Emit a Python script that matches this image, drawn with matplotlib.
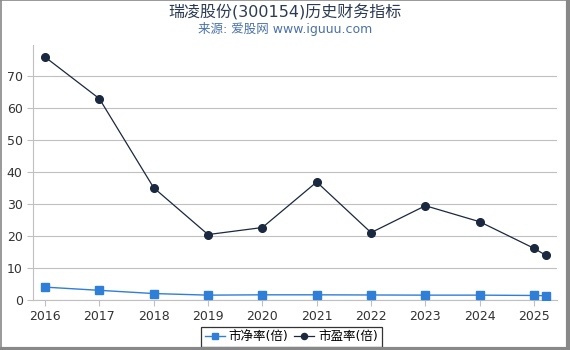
import matplotlib.pyplot as plt
from matplotlib.lines import Line2D

plt.rcParams['font.family'] = ['DejaVu Sans', 'Noto Sans CJK SC']

# 数据
anos = [2016, 2017, 2018, 2019, 2020, 2021, 2022, 2023, 2024, 2025, 2025.22]
pb = [4.0, 3.0, 2.0, 1.5, 1.6, 1.6, 1.55, 1.5, 1.5, 1.4, 1.3]
pe = [75.8, 62.8, 35.0, 20.4, 22.6, 36.8, 21.0, 29.4, 24.4, 16.1, 13.9]
xticks = [2016, 2017, 2018, 2019, 2020, 2021, 2022, 2023, 2024, 2025]
yticks = [0, 10, 20, 30, 40, 50, 60, 70]

fig = plt.figure(figsize=(5.7, 3.5), dpi=100)
ax = fig.add_axes([0.058, 0.143, 0.919, 0.728])

ax.plot(anos, pb, color='#2f7ed8', marker='s', markersize=5.5, linewidth=1,
        label='市净率(倍)', zorder=3)
ax.plot(anos, pe, color='#1a2840', marker='o', markersize=5.5, linewidth=0.9,
        label='市盈率(倍)', zorder=3)

ax.set_xlim(2015.78, 2025.42)
ax.set_ylim(0, 79.5)
ax.set_xticks(xticks)
ax.set_yticks(yticks)
ax.grid(axis='y', color='#c0c0c0', linewidth=0.8)
ax.set_axisbelow(True)

for s in ['top', 'right']:
    ax.spines[s].set_visible(False)
ax.spines['left'].set_color('#c0c0c0')
ax.spines['bottom'].set_color('#c0c0c0')
ax.tick_params(colors='#c0c0c0', labelcolor='#333333', labelsize=9, length=4)

fig.text(0.5, 0.965, '瑞凌股份(300154)历史财务指标', ha='center', va='center',
         fontsize=11.5, color='#2b3b55')
fig.text(0.5, 0.918, '来源: 爱股网 www.iguuu.com', ha='center', va='center',
         fontsize=9, color='#4a72a8')

leg = ax.legend(loc='upper center', bbox_to_anchor=(0.493, -0.08), ncol=2,
                fontsize=9, frameon=True, fancybox=False, handlelength=1.6,
                handletextpad=0.3, columnspacing=0.5, borderpad=0.3,
                markerscale=0.8)
leg.get_frame().set_edgecolor('black')
leg.get_frame().set_linewidth(0.9)

# 边框
borda = '#888888'
fig.add_artist(Line2D([0, 1], [0.999, 0.999], transform=fig.transFigure, color=borda, lw=1.2))
fig.add_artist(Line2D([0.001, 0.001], [0, 1], transform=fig.transFigure, color=borda, lw=1.2))
fig.add_artist(Line2D([0.997, 0.997], [0, 1], transform=fig.transFigure, color=borda, lw=3))
fig.add_artist(Line2D([0, 1], [0.004, 0.004], transform=fig.transFigure, color=borda, lw=3))

fig.savefig('out.png', dpi=100)
